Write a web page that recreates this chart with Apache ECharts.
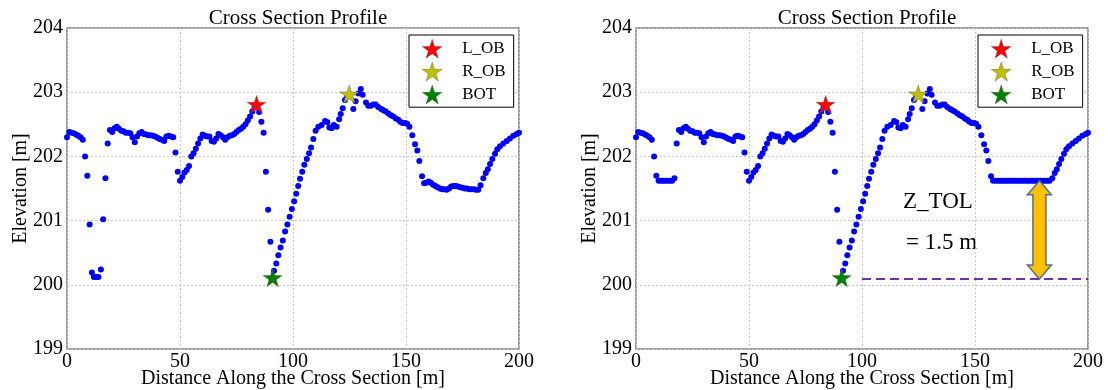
<!DOCTYPE html>
<html>
<head>
<meta charset="utf-8">
<script src="https://cdn.jsdelivr.net/npm/echarts@6/dist/echarts.min.js"></script>
<style>
html,body{margin:0;padding:0;background:#fff;}
#chart{width:1108px;height:390px;}
</style>
</head>
<body>
<div id="chart"></div>
<script>
// ---------- data ----------
const panelTitle = 'Cross Section Profile';
const xAxisTitle = 'Distance Along the Cross Section [m]';
const yAxisTitle = 'Elevation [m]';
const legendNames = ['L_OB', 'R_OB', 'BOT'];

// measured profile (distance [m], elevation [m]) - left panel
const profileOriginal = [
 [0,202.30],[1,202.38],[2,202.37],[3,202.36],[4,202.34],[5,202.32],[6,202.30],[7,202.26],[8,202.00],[9,201.70],
 [10,200.94],[11,200.19],[11.9,200.12],[12.9,200.12],[13.9,200.12],[15,200.24],[16,201.02],[17,201.66],[18,202.20],[19,202.41],
 [20,202.38],[21,202.44],[22,202.46],[23,202.43],[24,202.40],[25,202.39],[26,202.37],[27,202.37],[28,202.36],[29,202.30],
 [30,202.22],[31,202.31],[32,202.36],[33,202.38],[34,202.35],[35,202.34],[36,202.33],[37,202.33],[38,202.32],[39,202.31],
 [40,202.29],[41,202.27],[42,202.26],[43,202.24],[44,202.31],[45,202.32],[46,202.31],[47,202.30],[48,202.06],[49,201.76],
 [50,201.62],[51,201.68],[52,201.75],[53,201.79],[54,201.85],[55,202.00],[56,202.05],[57,202.12],[58,202.20],[59,202.28],
 [60,202.34],[61,202.32],[62,202.31],[63,202.31],[64,202.24],[65,202.23],[66,202.28],[67,202.35],[68,202.33],[69,202.30],
 [70,202.26],[71,202.30],[72,202.32],[73,202.33],[74,202.35],[75,202.38],[76,202.41],[77,202.43],[78,202.46],[79,202.50],
 [80,202.56],[81,202.62],[82,202.70],[83,202.76],[85,202.69],[86,202.54],[87,202.37],[88,201.76],[89,201.17],[90,200.67],
 [91.6,200.22],[92.6,200.33],[93.5,200.46],[94.5,200.58],[95.5,200.69],[96.5,200.83],[97.5,200.94],[98.5,201.06],[99.5,201.18],
 [100.5,201.30],[101.4,201.42],[102.3,201.54],[103.1,201.65],[104.1,201.76],[105,201.87],[106.1,201.96],[107.1,202.05],[108,202.14],[109,202.27],
 [110,202.40],[111.2,202.46],[112.7,202.49],[114.2,202.55],[115.2,202.53],[116.1,202.45],[117.1,202.44],[118.1,202.49],[119.3,202.46],
 [120.4,202.58],[121.1,202.66],[122,202.75],[123,202.88],[124,202.93],[126.7,202.74],[127.7,202.86],[128.9,202.98],[130,203.05],[130.8,202.96],
 [132.3,202.84],[133.3,202.79],[134.4,202.79],[135.5,202.81],[136.6,202.81],[137.7,202.77],[139,202.74],[140,202.72],[141,202.70],
 [142.2,202.67],[143.3,202.64],[144.4,202.62],[145.5,202.59],[146.6,202.57],[147.5,202.54],[148.5,202.52],[149.6,202.52],[150.5,202.51],
 [151.5,202.46],[152.8,202.33],[154,202.19],[155,202.09],[155.9,201.93],[157.1,201.69],[158,201.58],[159,201.59],[160,201.61],
 [161,201.59],[162,201.56],[163,201.54],[164,201.52],[165,201.50],[166,201.49],[167,201.49],[168,201.48],[169,201.50],[170,201.53],
 [171,201.54],[172,201.54],[173,201.53],[174,201.52],[175,201.51],[176,201.50],[177,201.50],[178,201.49],[179,201.49],[180,201.49],
 [181,201.48],[182,201.48],[183,201.55],[184.2,201.66],[185.3,201.74],[186.2,201.80],[187.2,201.88],[188.2,201.96],[189.4,202.04],
 [190.4,202.11],[191.6,202.16],[193.1,202.20],[194.6,202.24],[196,202.28],[197.5,202.32],[199,202.35],[200,202.37]
];

// profile after Z_TOL filling - right panel
const profileFilled = [
 [0,202.30],[1,202.38],[2,202.37],[3,202.36],[4,202.34],[5,202.32],[6,202.30],[7,202.26],[8,202.00],[9,201.70],
 [10,201.62],[11,201.62],[11.9,201.62],[12.9,201.62],[13.9,201.62],[15,201.62],[16,201.62],[17,201.66],[18,202.20],[19,202.41],
 [20,202.38],[21,202.44],[22,202.46],[23,202.43],[24,202.40],[25,202.39],[26,202.37],[27,202.37],[28,202.36],[29,202.30],
 [30,202.22],[31,202.31],[32,202.36],[33,202.38],[34,202.35],[35,202.34],[36,202.33],[37,202.33],[38,202.32],[39,202.31],
 [40,202.29],[41,202.27],[42,202.26],[43,202.24],[44,202.31],[45,202.32],[46,202.31],[47,202.30],[48,202.06],[49,201.76],
 [50,201.62],[51,201.68],[52,201.75],[53,201.79],[54,201.85],[55,202.00],[56,202.05],[57,202.12],[58,202.20],[59,202.28],
 [60,202.34],[61,202.32],[62,202.31],[63,202.31],[64,202.24],[65,202.23],[66,202.28],[67,202.35],[68,202.33],[69,202.30],
 [70,202.26],[71,202.30],[72,202.32],[73,202.33],[74,202.35],[75,202.38],[76,202.41],[77,202.43],[78,202.46],[79,202.50],
 [80,202.56],[81,202.62],[82,202.70],[83,202.76],[85,202.69],[86,202.54],[87,202.37],[88,201.76],[89,201.17],[90,200.67],
 [91.6,200.22],[92.6,200.33],[93.5,200.46],[94.5,200.58],[95.5,200.69],[96.5,200.83],[97.5,200.94],[98.5,201.06],[99.5,201.18],
 [100.5,201.30],[101.4,201.42],[102.3,201.54],[103.1,201.65],[104.1,201.76],[105,201.87],[106.1,201.96],[107.1,202.05],[108,202.14],[109,202.27],
 [110,202.40],[111.2,202.46],[112.7,202.49],[114.2,202.55],[115.2,202.53],[116.1,202.45],[117.1,202.44],[118.1,202.49],[119.3,202.46],
 [120.4,202.58],[121.1,202.66],[122,202.75],[123,202.88],[124,202.93],[126.7,202.74],[127.7,202.86],[128.9,202.98],[130,203.05],[130.8,202.96],
 [132.3,202.84],[133.3,202.79],[134.4,202.79],[135.5,202.81],[136.6,202.81],[137.7,202.77],[139,202.74],[140,202.72],[141,202.70],
 [142.2,202.67],[143.3,202.64],[144.4,202.62],[145.5,202.59],[146.6,202.57],[147.5,202.54],[148.5,202.52],[149.6,202.52],[150.5,202.51],
 [151.5,202.46],[152.8,202.33],[154,202.19],[155,202.09],[155.9,201.93],[157.1,201.69],[158,201.62],[159,201.62],[160,201.62],
 [161,201.62],[162,201.62],[163,201.62],[164,201.62],[165,201.62],[166,201.62],[167,201.62],[168,201.62],[169,201.62],[170,201.62],
 [171,201.62],[172,201.62],[173,201.62],[174,201.62],[175,201.62],[176,201.62],[177,201.62],[178,201.62],[179,201.62],[180,201.62],
 [181,201.62],[182,201.62],[183,201.62],[184.2,201.66],[185.3,201.74],[186.2,201.80],[187.2,201.88],[188.2,201.96],[189.4,202.04],
 [190.4,202.11],[191.6,202.16],[193.1,202.20],[194.6,202.24],[196,202.28],[197.5,202.32],[199,202.35],[200,202.37]
];

const lobPoint = [83.9, 202.81];
const robPoint = [124.9, 202.97];
const botPoint = [91.0, 200.11];

const ztolLine = [[100, 200.09], [200, 200.09]];
const ztolArrow = [[178.5, 201.62, 200.09]]; // x, top, bottom
const ztolText1 = 'Z_TOL';
const ztolText2 = '= 1.5 m';

// ---------- chart ----------
const FONT = "'Liberation Serif','Times New Roman',serif";
const STAR = 'path://M100 0 L122.45 69.1 L195.1 69.1 L136.3 111.8 L158.8 180.9 L100 138.2 L41.2 180.9 L63.7 111.8 L4.9 69.1 L77.55 69.1 Z';

const grids = [
  {left: 67, right: 589, top: 28, bottom: 41},
  {left: 636, right: 20, top: 28, bottom: 41}
];

function xAxis(i) {
  return {
    type: 'value', gridIndex: i, min: 0, max: 200, interval: 50,
    name: xAxisTitle, nameLocation: 'middle', nameGap: 20, nameMoveOverlap: false,
    nameTextStyle: {fontFamily: FONT, fontSize: 20, color: '#000'},
    axisLine: {show: false}, axisTick: {show: false},
    axisLabel: {fontFamily: FONT, fontSize: 20, color: '#000', margin: 3},
    splitLine: {show: true, lineStyle: {color: '#c8c8c8', type: [2, 2], width: 1}}
  };
}
function yAxis(i) {
  return {
    type: 'value', gridIndex: i, min: 199, max: 204, interval: 1,
    name: yAxisTitle, nameLocation: 'middle', nameGap: 36, nameRotate: 90, nameMoveOverlap: false,
    nameTextStyle: {fontFamily: FONT, fontSize: 20, color: '#000'},
    axisLine: {show: false}, axisTick: {show: false},
    axisLabel: {fontFamily: FONT, fontSize: 20, color: '#000', margin: 4},
    splitLine: {show: true, lineStyle: {color: '#c8c8c8', type: [2, 2], width: 1}}
  };
}

const starColors = {L_OB: '#ff0000', R_OB: '#bfbf00', BOT: '#008000'};
const starData = {L_OB: lobPoint, R_OB: robPoint, BOT: botPoint};

const series = [];
[profileOriginal, profileFilled].forEach((prof, i) => {
  series.push({
    type: 'scatter', name: 'profile', xAxisIndex: i, yAxisIndex: i,
    data: prof, symbol: 'circle', symbolSize: 6,
    itemStyle: {color: '#0000ff', opacity: 1}, z: 3, silent: true
  });
});
[0, 1].forEach(i => {
  legendNames.forEach(n => {
    series.push({
      type: 'scatter', name: n, xAxisIndex: i, yAxisIndex: i,
      data: [starData[n]], symbol: STAR, symbolSize: 19, symbolKeepAspect: true,
      itemStyle: {color: starColors[n], opacity: 1, borderColor: '#555', borderWidth: 0.4},
      z: 5, silent: true
    });
  });
});
series.push({
  type: 'line', name: 'ztol', xAxisIndex: 1, yAxisIndex: 1, data: ztolLine,
  symbol: 'none', lineStyle: {color: '#7030a0', width: 2, type: [9, 5]}, z: 2, silent: true
});
series.push({
  type: 'custom', name: 'arrow', xAxisIndex: 1, yAxisIndex: 1, data: ztolArrow,
  encode: {x: 0, y: [1, 2]}, z: 6, silent: true,
  renderItem: function (params, api) {
    const t = api.coord([api.value(0), api.value(1)]);
    const b = api.coord([api.value(0), api.value(2)]);
    const x = t[0], hw = 12, sw = 6.5, hl = 14;
    return {
      type: 'polygon',
      shape: {points: [
        [x, t[1]], [x + hw, t[1] + hl], [x + sw, t[1] + hl], [x + sw, b[1] - hl], [x + hw, b[1] - hl],
        [x, b[1]], [x - hw, b[1] - hl], [x - sw, b[1] - hl], [x - sw, t[1] + hl], [x - hw, t[1] + hl]
      ]},
      style: {fill: '#ffc000', stroke: '#52708f', lineWidth: 1.5}
    };
  }
});

function legend(left) {
  return {
    orient: 'vertical', left: left, top: 35,
    padding: [4, 8, 3, 13], itemGap: 3.5, itemWidth: 20, itemHeight: 19,
    borderColor: '#000', borderWidth: 1, backgroundColor: '#fff', borderRadius: 0,
    selectedMode: false,
    itemStyle: {borderWidth: 0.4, borderColor: '#555'},
    textStyle: {fontFamily: FONT, fontSize: 17, color: '#000', padding: [0, 0, 0, 15]},
    data: legendNames.map(n => ({name: n, icon: STAR}))
  };
}

const option = {
  animation: false,
  backgroundColor: '#fff',
  title: [
    {text: panelTitle, left: 293, top: 3, textAlign: 'center',
     textStyle: {fontFamily: FONT, fontSize: 21, fontWeight: 'normal', color: '#000'}},
    {text: panelTitle, left: 862, top: 3, textAlign: 'center',
     textStyle: {fontFamily: FONT, fontSize: 21, fontWeight: 'normal', color: '#000'}}
  ],
  legend: [legend(409), legend(978)],
  grid: grids.map(g => Object.assign({show: true, borderColor: '#808080', borderWidth: 1.5,
    backgroundColor: 'transparent', containLabel: false, outerBoundsMode: 'none'}, g)),
  xAxis: [xAxis(0), xAxis(1)],
  yAxis: [yAxis(0), yAxis(1)],
  series: series,
  graphic: [
    {type: 'text', left: 903, top: 190, style: {text: ztolText1, font: "23px 'Liberation Serif'", fill: '#000'}},
    {type: 'text', left: 906, top: 231, style: {text: ztolText2, font: "23px 'Liberation Serif'", fill: '#000'}}
  ]
};

const chart = echarts.init(document.getElementById('chart'), null, {renderer: 'canvas'});
chart.setOption(option);
</script>
</body>
</html>
